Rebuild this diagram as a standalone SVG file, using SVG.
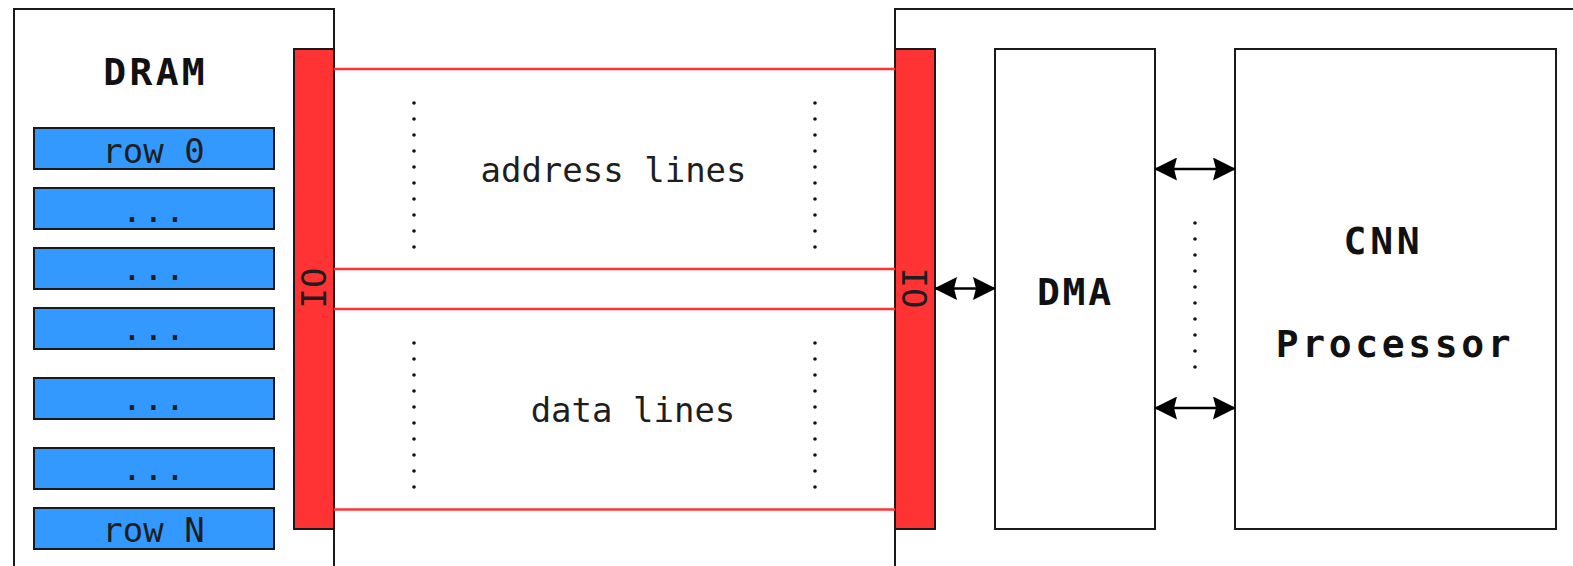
<svg xmlns="http://www.w3.org/2000/svg" width="1573" height="566" viewBox="0 0 1573 566">
  <defs>
    <style>
      .box { fill: #ffffff; stroke: #1a1a1a; stroke-width: 2; }
      .row { fill: #3399ff; stroke: #1a1a1a; stroke-width: 2; }
      .io { fill: #ff3333; stroke: #1a1a1a; stroke-width: 2; }
      .bus { stroke: #ff3333; stroke-width: 2.5; fill: none; }
      .dots { stroke: #111111; stroke-width: 3.6; stroke-linecap: round; stroke-dasharray: 0 16; fill: none; }
      .link { stroke: #000000; stroke-width: 2.5; fill: none; marker-start: url(#head); marker-end: url(#head); }
      .mono { font-family: "DejaVu Sans Mono", "Liberation Mono", monospace; fill: #111111; }
      .label { font-size: 34px; text-anchor: middle; fill: #1e1e1e; }
      .title { font-size: 38px; font-weight: bold; text-anchor: middle; }
    </style>
    <marker id="head" viewBox="0 0 23 23" refX="22" refY="11.5" markerWidth="23" markerHeight="23" markerUnits="userSpaceOnUse" orient="auto-start-reverse">
      <path d="M0,0 L23,11.5 L0,23 L3,11.5 Z" fill="#000000"/>
    </marker>
  </defs>

  <rect width="1573" height="566" fill="#ffffff"/>

  <!-- DRAM chip with its row array and IO port -->
  <g id="dram">
    <rect class="box" x="14" y="9" width="320" height="580"/>
    <text class="mono title" x="155.7" y="84.5" letter-spacing="3.3">DRAM</text>
  </g>
  <g id="row-0">
    <rect class="row" x="34" y="128" width="240" height="41"/>
    <text class="mono label" x="153.5" y="163">row 0</text>
  </g>
  <g id="row-1">
    <rect class="row" x="34" y="188" width="240" height="41"/>
    <text class="mono label" x="154" y="222" letter-spacing="1">...</text>
  </g>
  <g id="row-2">
    <rect class="row" x="34" y="248" width="240" height="41"/>
    <text class="mono label" x="154" y="280" letter-spacing="1">...</text>
  </g>
  <g id="row-3">
    <rect class="row" x="34" y="308" width="240" height="41"/>
    <text class="mono label" x="154" y="340" letter-spacing="1">...</text>
  </g>
  <g id="row-4">
    <rect class="row" x="34" y="378" width="240" height="41"/>
    <text class="mono label" x="154" y="410" letter-spacing="1">...</text>
  </g>
  <g id="row-5">
    <rect class="row" x="34" y="448" width="240" height="41"/>
    <text class="mono label" x="154" y="480" letter-spacing="1">...</text>
  </g>
  <g id="row-n">
    <rect class="row" x="34" y="508" width="240" height="41"/>
    <text class="mono label" x="153.5" y="542">row N</text>
  </g>
  <g id="dram-io">
    <rect class="io" x="294" y="49" width="40" height="480"/>
    <text class="mono label" transform="translate(314,288) rotate(-90)" dominant-baseline="central">IO</text>
  </g>

  <!-- Accelerator side: IO port, DMA engine, CNN processor -->
  <g id="accelerator">
    <rect class="box" x="895" y="9" width="700" height="580"/>
  </g>
  <g id="acc-io">
    <rect class="io" x="895" y="49" width="40" height="480"/>
    <text class="mono label" transform="translate(914,288) rotate(90)" dominant-baseline="central">IO</text>
  </g>
  <g id="dma">
    <rect class="box" x="995" y="49" width="160" height="480"/>
    <text class="mono title" x="1075.4" y="305" letter-spacing="2.8">DMA</text>
  </g>
  <g id="cnn">
    <rect class="box" x="1235" y="49" width="321" height="480"/>
    <text class="mono title" x="1383.5" y="253.5" font-size="39.5" letter-spacing="3.8">CNN</text>
    <text class="mono title" x="1395" y="357" font-size="39" letter-spacing="3.6">Processor</text>
  </g>

  <!-- Bus labels -->
  <g id="bus-labels">
    <text class="mono label" x="613.5" y="182">address lines</text>
    <text class="mono label" x="633" y="422">data lines</text>
  </g>

  <!-- Connectors -->
  <g id="connectors">
    <line class="bus" x1="334" y1="69" x2="895" y2="69"/>
    <line class="bus" x1="334" y1="269" x2="895" y2="269"/>
    <line class="bus" x1="334" y1="309" x2="895" y2="309"/>
    <line class="bus" x1="334" y1="509.5" x2="895" y2="509.5"/>

    <line class="dots" x1="414" y1="103" x2="414" y2="248"/>
    <line class="dots" x1="815" y1="103" x2="815" y2="248"/>
    <line class="dots" x1="414" y1="343" x2="414" y2="488"/>
    <line class="dots" x1="815" y1="343" x2="815" y2="488"/>
    <line class="dots" x1="1195" y1="223" x2="1195" y2="368"/>

    <line class="link" x1="935" y1="288.5" x2="995" y2="288.5"/>
    <line class="link" x1="1155" y1="169" x2="1235" y2="169"/>
    <line class="link" x1="1155" y1="408" x2="1235" y2="408"/>
  </g>
</svg>
